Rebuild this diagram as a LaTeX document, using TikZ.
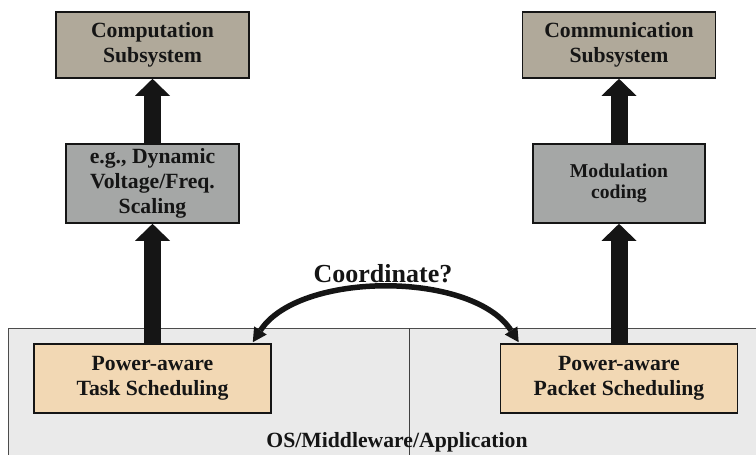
\documentclass[tikz,border=0pt]{standalone}
\usepackage{fontspec}
\setmainfont{Liberation Serif}
\usetikzlibrary{arrows.meta}
\definecolor{subsys}{HTML}{B0A99A}
\definecolor{mech}{HTML}{A5A7A6}
\definecolor{sched}{HTML}{F2D8B4}
\definecolor{layer}{HTML}{EAEAEA}
\definecolor{ink}{HTML}{151515}
\begin{document}
\begin{tikzpicture}[x=1pt,y=-1pt,
  boxlabel/.style={font=\fontsize{21.7}{25}\selectfont\bfseries, text=ink, align=center},
  box/.style={boxlabel, draw=ink, line width=1.6pt, inner sep=0pt},
  subsysbox/.style={box, fill=subsys, minimum width=193pt, minimum height=66pt},
  mechbox/.style={box, fill=mech, minimum height=79pt},
  schedbox/.style={box, fill=sched, minimum width=237pt, minimum height=69pt},
  blockarrow/.style={draw=ink, line width=17pt,
    -{Triangle[width=35pt,length=17pt,line width=0pt]}},
  coordarrow/.style={draw=ink, line width=5.5pt,
    {Triangle[width=15pt,length=14pt,line width=0pt]}-{Triangle[width=15pt,length=14pt,line width=0pt]}}
]
\useasboundingbox (0,0) rectangle (756,455);

% software layer at the bottom
\draw[fill=layer, draw=black!70, line width=0.9pt] (8,328) rectangle (762,462);
\draw[black!75, line width=0.9pt] (409,328) -- (409,462);
\node[boxlabel, anchor=base] (layer) at (397,447) {OS/Middleware/Application};

% hardware subsystems
\node[subsysbox] (comp) at (152.5,45) {Computation\\Subsystem};
\node[subsysbox] (comm) at (619,45) {Communication\\Subsystem};

% power management mechanisms
\node[mechbox, minimum width=173pt] (dvfs) at (152.5,183.5) {e.g., Dynamic\\Voltage/Freq.\\Scaling};
\node[mechbox, minimum width=172pt, font=\fontsize{19.6}{21}\selectfont\bfseries] (mod) at (619,183.5) {Modulation\\coding};

% schedulers
\node[schedbox] (task) at (152.5,378.5) {Power-aware\\Task Scheduling};
\node[schedbox] (pkt) at (619,378.5) {Power-aware\\Packet Scheduling};

% control flow upwards
\draw[blockarrow] (dvfs.north) -- (comp.south);
\draw[blockarrow] (task.north) -- (dvfs.south);
\draw[blockarrow] (mod.north) -- (comm.south);
\draw[blockarrow] (pkt.north) -- (mod.south);

% coordination between the two schedulers
\coordinate (cl) at ([xshift=-19pt,yshift=1pt]task.north east);
\coordinate (cr) at ([xshift=19pt,yshift=1pt]pkt.north west);
\draw[coordarrow] (cl) to[out=57,in=123,looseness=0.82] (cr);
\node[font=\fontsize{26}{30}\selectfont\bfseries, text=ink, anchor=base] (q) at (383,282) {Coordinate?};
\end{tikzpicture}
\end{document}
